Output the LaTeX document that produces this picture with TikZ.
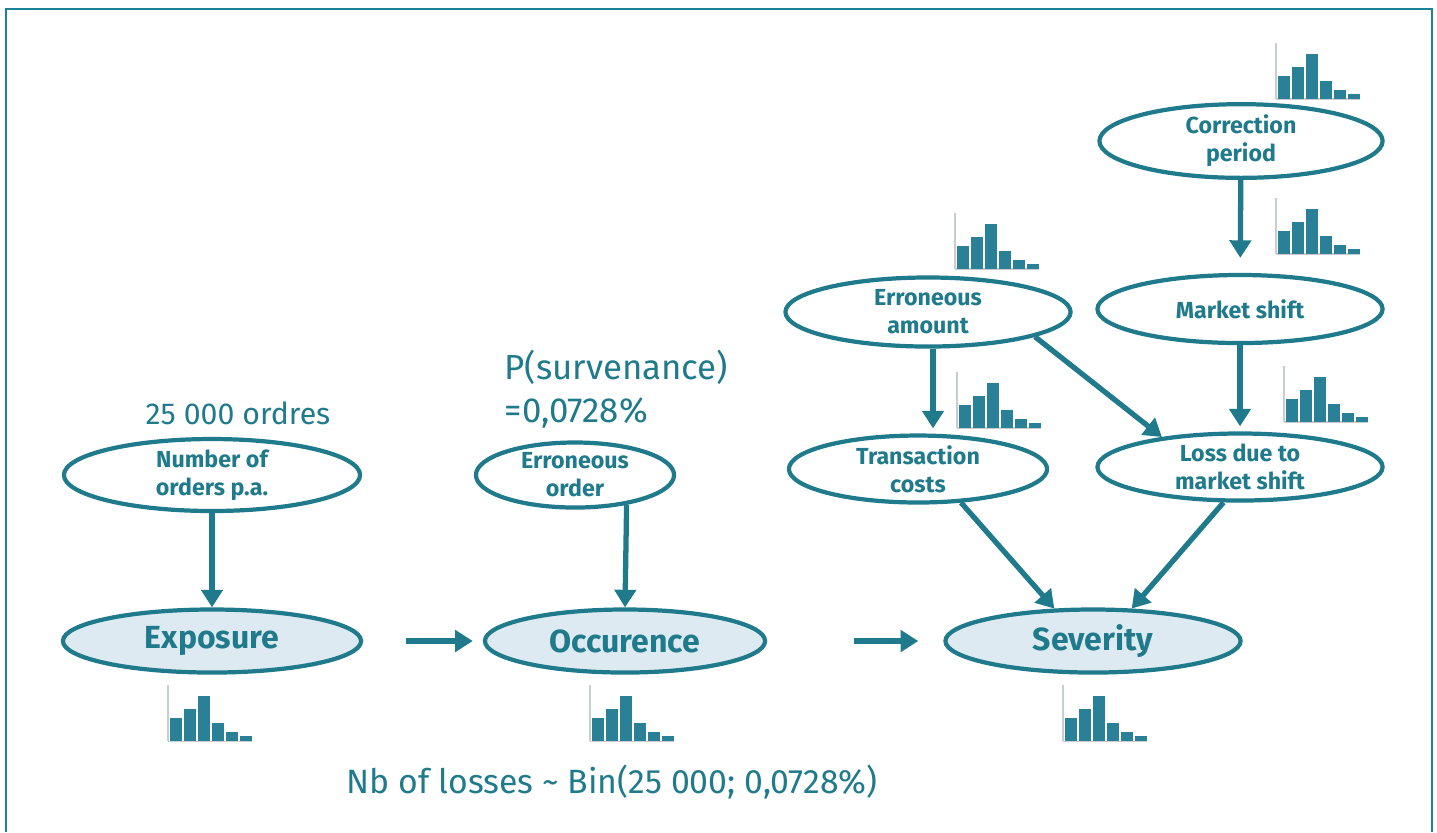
\documentclass[tikz,border=0pt]{standalone}
\usepackage{fontspec}
\setmainfont{Fira Sans}
\usetikzlibrary{shapes.geometric, arrows.meta}
\definecolor{tealline}{RGB}{31,122,140}
\definecolor{tealbar}{RGB}{42,128,150}
\definecolor{ovalfill}{RGB}{222,234,241}
\definecolor{axisgray}{RGB}{200,205,208}
\definecolor{frameblue}{RGB}{30,130,150}

\begin{document}
\begin{tikzpicture}[x=0.01cm, y=-0.01cm,
   oval/.style={ellipse, draw=tealline, line width=1.2pt, fill=white, text=tealline, inner sep=0pt, align=center, font=\fontsize{6.6}{8}\selectfont\bfseries},
   bigoval/.style={oval, fill=ovalfill, font=\fontsize{9.1}{10}\selectfont\bfseries},
   flow/.style={draw=tealline, line width=1.5pt, -{Triangle[length=5pt,width=6pt]}},
   note/.style={text=tealline, inner sep=0pt, font=\fontsize{9}{12.2}\selectfont},
   histo/.pic={
     \draw[axisgray, line width=0.3pt] (0,0) -- (0,-56);
     \draw[axisgray, line width=0.3pt] (0,0) -- (84,0);
     \foreach \i/\h in {0/23,1/32,2/45,3/18,4/9,5/5}
       \fill[tealbar] (1.5+\i*14,0) rectangle ++(12.5,-\h);
   }]
   \useasboundingbox (0,0) rectangle (1437,832);
   \draw[frameblue, line width=0.6pt] (6,832) -- (6,9) -- (1432,9) -- (1432,832);

   % main chain
   \node[bigoval, minimum width=2.98cm, minimum height=0.63cm] (expo) at (212,641) {Exposure};
   \node[bigoval, minimum width=2.80cm, minimum height=0.63cm] (occ) at (625,641) {Occurence};
   \node[bigoval, minimum width=2.95cm, minimum height=0.63cm] (sev) at (1093,641) {Severity};

   % drivers
   \node[oval, minimum width=2.96cm, minimum height=0.65cm] (orders) at (212,475) {Number of\\orders p.a.};
   \node[oval, minimum width=1.98cm, minimum height=0.65cm] (errord) at (575,475) {Erroneous\\order};
   \node[oval, minimum width=2.58cm, minimum height=0.66cm] (trans) at (918,469) {Transaction\\costs};
   \node[oval, minimum width=2.85cm, minimum height=0.67cm] (loss) at (1240,467) {Loss due to\\market shift};
   \node[oval, minimum width=2.85cm, minimum height=0.69cm] (eamt) at (928,312) {Erroneous\\amount};
   \node[oval, minimum width=2.85cm, minimum height=0.68cm] (mkt) at (1240,309) {Market shift};
   \node[oval, minimum width=2.83cm, minimum height=0.67cm] (corr) at (1241,141) {Correction\\period};

   % figures
   \node[note, font=\fontsize{8.6}{12.2}\selectfont] (nbord) at (238,413) {25 000 ordres};
   \node[note, font=\fontsize{9.9}{12.4}\selectfont, align=left, anchor=north west] (psurv) at (504,349) {P(survenance)\\=0,0728\%};
   \node[note, font=\fontsize{9.6}{12.2}\selectfont] (bin) at (612,782) {Nb of losses \textasciitilde{} Bin(25 000; 0,0728\%)};

   % links
   \draw[flow] (orders) -- (expo);
   \draw[flow] (errord.-30) -- (occ.north);
   \draw[flow, shorten <=0.43cm, shorten >=0.1cm] (expo) -- (occ);
   \draw[flow, shorten <=0.87cm, shorten >=0.25cm] (occ) -- (sev);
   \draw[flow, shorten >=0.15cm] (corr) -- (mkt);
   \draw[flow, shorten >=0.05cm] (mkt) -- (loss);
   \draw[flow, shorten >=0.05cm] ([xshift=0.05cm]eamt.south) -- ([xshift=0.05cm]eamt.south |- trans.north);
   \draw[flow] (eamt.-13) -- (loss.159);
   \draw[flow] (trans.-38) -- (sev.140);
   \draw[flow] (loss.-115) -- (sev.40);

   % histograms
   \pic at (168,741) {histo};
   \pic at (590,741) {histo};
   \pic at (1063,741) {histo};
   \pic at (1276,99) {histo};
   \pic at (1276,254) {histo};
   \pic at (955,269) {histo};
   \pic at (957,428) {histo};
   \pic at (1284,422) {histo};
\end{tikzpicture}
\end{document}
